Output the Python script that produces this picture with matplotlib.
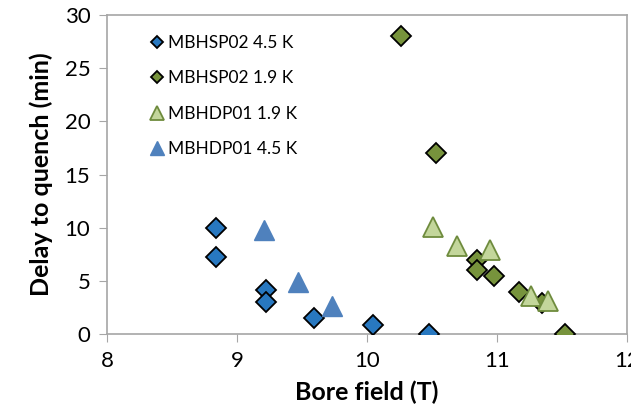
import matplotlib
matplotlib.use("Agg")
import matplotlib.pyplot as plt

# quench delay vs bore field
sp02_45_field = [8.84, 8.84, 9.22, 9.22, 9.59, 10.05, 10.48]
sp02_45_delay = [10.0, 7.3, 4.15, 3.0, 1.55, 0.85, 0.0]

sp02_19_field = [10.26, 10.53, 10.85, 10.85, 10.98, 11.17, 11.35, 11.52]
sp02_19_delay = [28.0, 17.0, 7.0, 6.0, 5.45, 4.0, 2.9, 0.0]

dp01_19_field = [10.51, 10.69, 10.95, 11.26, 11.39]
dp01_19_delay = [10.1, 8.3, 7.9, 3.6, 3.1]

dp01_45_field = [9.21, 9.47, 9.73]
dp01_45_delay = [9.8, 4.9, 2.7]

plt.rcParams['font.family'] = ['Lato', 'DejaVu Sans']

fig = plt.figure(figsize=(6.31, 4.15), dpi=100)
ax = fig.add_axes([0.1696, 0.1945, 0.824, 0.7694])

ax.plot(sp02_45_field, sp02_45_delay, 'D', ms=10, mfc='#2878C0', mec='black',
        mew=1.3, label='MBHSP02 4.5 K', zorder=3)
ax.plot(sp02_19_field, sp02_19_delay, 'D', ms=10, mfc='#77933C', mec='black',
        mew=1.3, label='MBHSP02 1.9 K', zorder=3)
ax.plot(dp01_19_field, dp01_19_delay, '^', ms=15, mfc='#C3D69B', mec='#6E8B3D',
        mew=1.3, label='MBHDP01 1.9 K', zorder=3)
ax.plot(dp01_45_field, dp01_45_delay, '^', ms=15, mfc='#4F81BD', mec='#4F81BD',
        mew=1.0, label='MBHDP01 4.5 K', zorder=3)

ax.set_xlim(8, 12)
ax.set_ylim(0, 30)
ax.set_xticks([8, 9, 10, 11, 12])
ax.set_yticks([0, 5, 10, 15, 20, 25, 30])

for s in ax.spines.values():
    s.set_color('#A6A6A6')
    s.set_linewidth(1.2)
ax.tick_params(direction='out', length=6, color='#A6A6A6', labelsize=16, pad=6)

ax.set_xlabel('Bore field (T)', fontsize=18, fontweight='bold', labelpad=7)
ax.set_ylabel('Delay to quench (min)', fontsize=18, fontweight='bold', labelpad=8)

ax.legend(loc='upper left', bbox_to_anchor=(0.05, 0.985), frameon=False,
          fontsize=12.5, markerscale=0.65, labelspacing=1.1, handletextpad=0.1,
          handlelength=1.0)

fig.savefig('out.png', dpi=100)
